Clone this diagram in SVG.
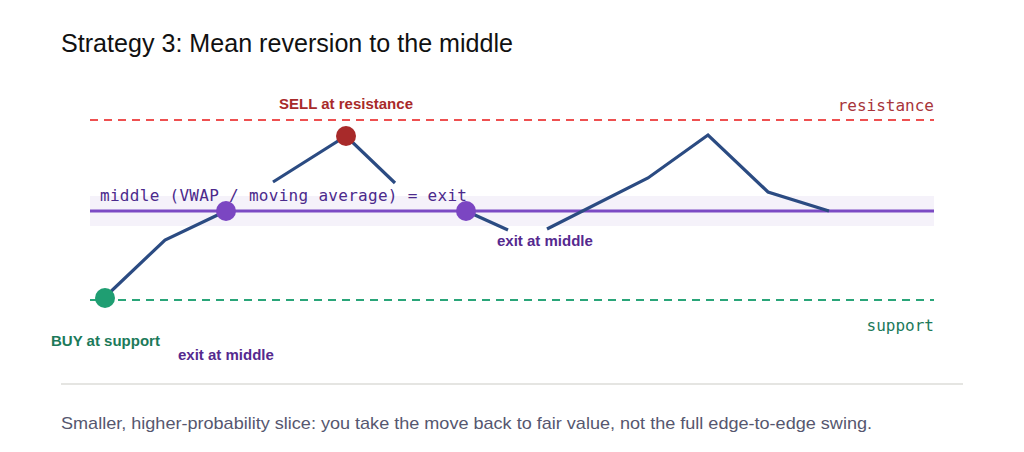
<svg xmlns="http://www.w3.org/2000/svg" width="1024" height="452" viewBox="0 0 1024 452">
<style>
.sans{font-family:"Liberation Sans",Arial,sans-serif}
.mono{font-family:"DejaVu Sans Mono","Liberation Mono",monospace;font-size:16px}
.lbl{font-family:"Liberation Sans",Arial,sans-serif;font-weight:bold;font-size:15px}
.price{fill:none;stroke:#2b4b82;stroke-width:3.2;stroke-linejoin:miter;stroke-linecap:butt}
</style>
<rect width="1024" height="452" fill="#ffffff"/>
<text class="sans" x="61" y="52" font-size="25" fill="#111111" textLength="452" lengthAdjust="spacingAndGlyphs">Strategy 3: Mean reversion to the middle</text>
<g id="band">
<rect x="90" y="196" width="844" height="30" fill="#f5f2fa"/>
<line x1="90" y1="211" x2="934" y2="211" stroke="#7c4bc4" stroke-width="3"/>
</g>
<g id="resistance">
<line x1="90" y1="120" x2="934" y2="120" stroke="#ee5050" stroke-width="2" stroke-dasharray="8 6"/>
<text class="mono" x="934" y="111" text-anchor="end" fill="#a8343a">resistance</text>
</g>
<g id="support">
<line x1="90" y1="300" x2="934" y2="300" stroke="#2aa579" stroke-width="2" stroke-dasharray="8 6"/>
<text class="mono" x="934" y="331" text-anchor="end" fill="#1c7a5a">support</text>
</g>
<g id="middle-label">
<text class="mono" x="100" y="201" fill="#4c2a8c" textLength="367" lengthAdjust="spacing">middle (VWAP / moving average) = exit</text>
</g>
<g id="connectors">
<polyline class="price" points="104,298 165,240 226,211"/>
<polyline class="price" points="273,182 346,136 395,183"/>
<polyline class="price" points="466,211 508,230"/>
<polyline class="price" points="547,229 648,178 708,135 768,192 829,211"/>
</g>
<g id="buy">
<circle cx="105" cy="298" r="10" fill="#1f9e72"/>
<text class="lbl" x="51" y="346" fill="#1c7a5a">BUY at support</text>
</g>
<g id="exit1">
<circle cx="226" cy="211" r="10" fill="#7b46c2"/>
<text class="lbl" x="178" y="360" fill="#55298f">exit at middle</text>
</g>
<g id="sell">
<circle cx="346" cy="136" r="10" fill="#a82a2a"/>
<text class="lbl" x="346" y="109" text-anchor="middle" fill="#a82a2a">SELL at resistance</text>
</g>
<g id="exit2">
<circle cx="466" cy="211" r="10" fill="#7b46c2"/>
<text class="lbl" x="497" y="246" fill="#55298f">exit at middle</text>
</g>
<line x1="61" y1="384" x2="963" y2="384" stroke="#dcdcd8" stroke-width="1.5"/>
<text class="sans" x="61" y="429" font-size="17" fill="#56576f" textLength="811" lengthAdjust="spacingAndGlyphs">Smaller, higher-probability slice: you take the move back to fair value, not the full edge-to-edge swing.</text>
</svg>
